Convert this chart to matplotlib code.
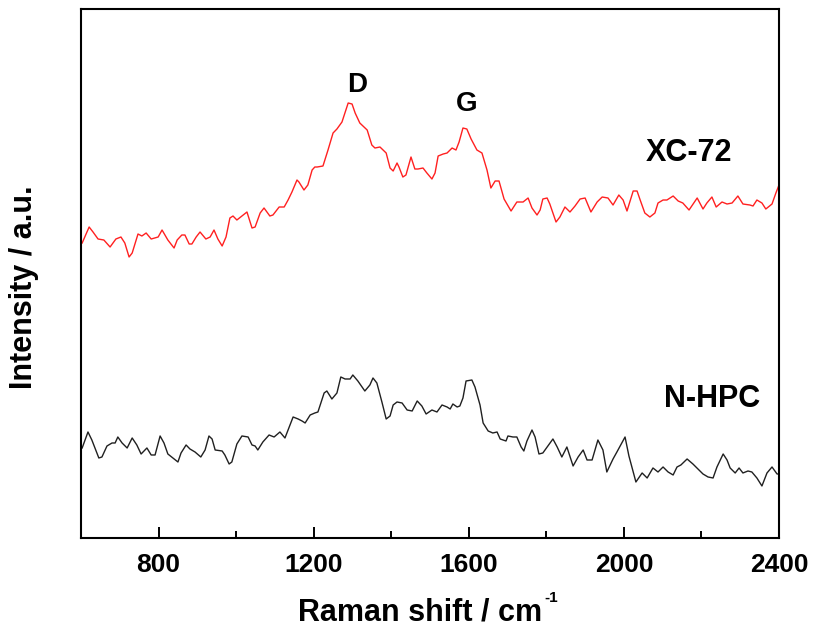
import matplotlib.pyplot as plt
from matplotlib.ticker import MultipleLocator

# Raman spectra (wavenumber in cm^-1, intensity in a.u.)
xc72_shift = [603, 621, 631, 644, 659, 675, 690, 703, 713, 724, 732, 747, 757, 768, 781, 799, 809, 824, 840, 848,
              860, 868, 879, 886, 897, 907, 922, 933, 943, 953, 964, 974, 984, 992, 1002, 1015, 1028, 1041, 1049, 1062,
              1072, 1087, 1095, 1111, 1124, 1134, 1144, 1157, 1162, 1175, 1185, 1196, 1203,
              1209, 1224, 1237, 1250, 1260, 1273, 1283, 1289, 1299, 1307, 1319, 1338, 1350, 1358, 1371, 1387, 1397, 1405,
              1415, 1420, 1430, 1438, 1451, 1461, 1469, 1482, 1492, 1505, 1513, 1521, 1534, 1544, 1557, 1567, 1575, 1585,
              1595, 1606, 1621, 1634, 1647, 1657, 1668, 1678, 1691, 1709, 1724, 1740, 1753, 1763, 1776, 1784,
              1791, 1802, 1809, 1825, 1835, 1848, 1861, 1874, 1887, 1900, 1915, 1931, 1944, 1959, 1972, 1987, 1998, 2008,
              2024, 2034, 2042, 2054, 2067, 2080, 2088, 2101, 2111, 2127, 2140, 2152, 2168, 2189, 2204, 2214, 2227, 2238,
              2253, 2266, 2279, 2294, 2307, 2325, 2333, 2343, 2356, 2366, 2382, 2392, 2400]
xc72_int = [317, 333, 328, 321, 320, 313, 321, 323, 317, 303, 307, 326, 324, 327, 321, 323, 330, 320, 312, 320,
            325, 325, 316, 316, 323, 328, 321, 323, 330, 321, 314, 323, 342, 344, 340, 344, 348, 332, 333, 347,
            352, 344, 345, 353, 353, 360, 368, 380, 378, 370, 375, 390, 393,
            393, 394, 410, 427, 431, 438, 450, 457, 456, 447, 437, 430, 415, 412, 413, 407, 392, 389, 397, 393,
            383, 385, 403, 391, 391, 392, 387, 381, 387, 404, 406, 407, 412, 410, 418, 432, 431, 421,
            410, 407, 390, 372, 379, 379, 361, 349, 358, 358, 362, 352, 345, 350,
            361, 362, 356, 338, 343, 353, 348, 354, 361, 362, 348, 358, 363, 362, 355, 365, 360, 349,
            369, 369, 360, 347, 343, 347, 357, 360, 360, 364, 359, 357, 350, 362, 351, 357, 363, 353,
            358, 356, 357, 364, 356, 355, 354, 360, 357, 351, 356, 367, 375]

nhpc_shift = [603, 618, 628, 636, 646, 654, 667, 680, 688, 695, 706, 719, 732, 744, 755, 770, 781, 791, 804, 814,
              824, 837, 850, 858, 871, 881, 894, 909, 920, 930, 938, 946, 964, 971, 982, 989, 1002, 1015, 1031, 1041,
              1049, 1056, 1069, 1085, 1098, 1113, 1126, 1134, 1147, 1160, 1170, 1178, 1191, 1203,
              1211, 1227, 1234, 1247, 1260, 1270, 1281, 1294, 1301, 1314, 1332, 1345, 1353, 1363, 1376, 1387, 1397, 1405,
              1415, 1428, 1441, 1454, 1467, 1479, 1490, 1505, 1518, 1531, 1544, 1552, 1559, 1570, 1577, 1585, 1593, 1608,
              1616, 1629, 1637, 1650, 1662, 1673, 1681, 1696, 1701, 1714, 1724, 1735, 1742, 1750, 1763, 1771, 1781,
              1791, 1802, 1817, 1828, 1840, 1853, 1869, 1882, 1895, 1905, 1918, 1933, 1946, 1956, 1972, 1982, 2003, 2013,
              2031, 2047, 2060, 2075, 2088, 2101, 2114, 2127, 2137, 2147, 2163, 2178, 2191, 2204, 2217, 2230, 2240, 2256,
              2266, 2274, 2287, 2297, 2307, 2320, 2330, 2343, 2356, 2369, 2382, 2395, 2400]
nhpc_int = [112, 128, 120, 112, 102, 103, 114, 117, 117, 123, 117, 112, 122, 115, 106, 112, 105, 105, 124, 117,
            106, 102, 98, 107, 115, 111, 108, 103, 110, 124, 121, 110, 109, 105, 96, 98, 116, 124, 123, 115,
            114, 110, 118, 125, 123, 128, 122, 130, 143, 141, 139, 137, 145, 147,
            148, 167, 169, 161, 167, 183, 181, 181, 185, 179, 169, 175, 182, 177, 158, 141, 144, 155,
            158, 157, 150, 149, 159, 154, 146, 150, 148, 155, 153, 151, 156, 153, 154, 162, 179, 180,
            173, 155, 137, 129, 127, 128, 121, 119, 124, 123, 123, 113, 109, 119, 130, 123, 106,
            107, 113, 121, 113, 103, 113, 94, 103, 110, 100, 100, 120, 110, 88, 101, 108, 123, 104,
            78, 87, 82, 92, 88, 93, 88, 85, 93, 95, 101, 96, 91, 86, 83, 82, 93, 106,
            100, 92, 87, 92, 87, 89, 88, 82, 74, 87, 93, 86, 86]

ticks = [800, 1200, 1600, 2000, 2400]

plt.rcParams['font.family'] = ['Liberation Sans', 'DejaVu Sans']
plt.rcParams['font.weight'] = 'bold'

fig = plt.figure(figsize=(8.14, 6.26), dpi=100)
ax = fig.add_axes([0.0995, 0.1406, 0.8575, 0.845])

ax.plot(xc72_shift, xc72_int, color='#ff2020', lw=1.0)
ax.plot(nhpc_shift, nhpc_int, color='#202020', lw=1.0)

ax.set_xlim(600, 2400)
ax.set_ylim(22, 551)
ax.xaxis.set_minor_locator(MultipleLocator(200))
ax.set_xticks(ticks)
ax.set_yticks([])
ax.tick_params(axis='x', which='major', direction='in', length=8, width=1.4, pad=11, labelsize=19)
ax.tick_params(axis='x', which='minor', direction='in', length=5, width=1.4)
for sp in ax.spines.values():
    sp.set_linewidth(1.5)

ax.set_xlabel('Raman shift / cm', fontsize=22, fontweight='bold', va='top')
ax.xaxis.set_label_coords(0.486, -0.112)
ax.set_ylabel('Intensity / a.u.', fontsize=22, fontweight='bold', va='center')
ax.yaxis.set_label_coords(-0.082, 0.475)

ax.text(1312, 475, 'D', fontsize=20, fontweight='bold', ha='center', va='center')
ax.text(1595, 456, 'G', fontsize=20, fontweight='bold', ha='center', va='center')
ax.text(2168, 407, 'XC-72', fontsize=22, fontweight='bold', ha='center', va='center')
ax.text(2227, 161, 'N-HPC', fontsize=22, fontweight='bold', ha='center', va='center')

# superscript -1 after "cm", placed from the drawn label extent
fig.canvas.draw()
bb = ax.xaxis.label.get_window_extent().transformed(fig.transFigure.inverted())
fig.text(bb.x1 + 0.003, bb.y1 + 0.010, '-1', fontsize=11, fontweight='bold', ha='left', va='top')

plt.savefig('out.png', dpi=100)
